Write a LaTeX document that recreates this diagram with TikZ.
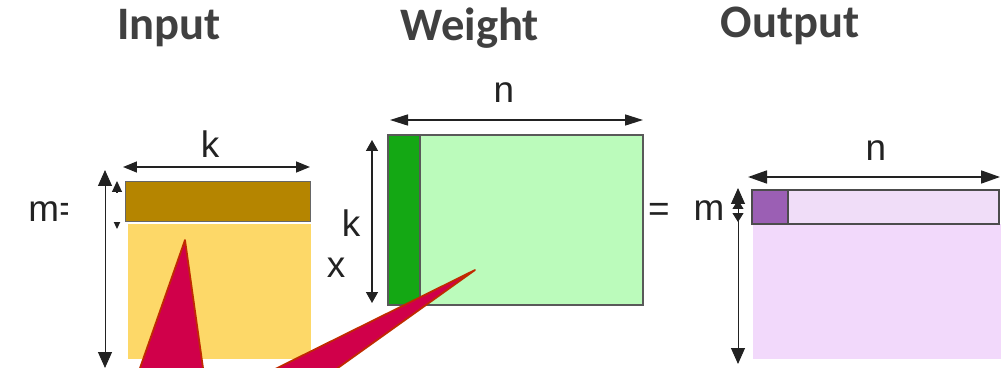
\documentclass[tikz,border=0pt]{standalone}
\usepackage{fontspec}
\setmainfont{Liberation Sans}
\newfontfamily\titlefont{Carlito}
\usetikzlibrary{arrows.meta}

\definecolor{titlegray}{HTML}{404040}
\definecolor{labgray}{HTML}{222222}
\definecolor{rowbrown}{HTML}{B58500}
\definecolor{inyellow}{HTML}{FDD868}
\definecolor{wlight}{HTML}{BBFBBB}
\definecolor{wdark}{HTML}{14A814}
\definecolor{outpink}{HTML}{F2D9FB}
\definecolor{rowpink}{HTML}{F0DDF8}
\definecolor{cellpurple}{HTML}{9B5FB4}
\definecolor{calloutred}{HTML}{D0004A}
\definecolor{calloutedge}{HTML}{C02A00}

\tikzset{
  title/.style={font=\titlefont\bfseries\fontsize{26.5}{26.5}\selectfont, text=titlegray},
  lab/.style={font=\fontsize{21}{21}\selectfont, text=labgray, inner sep=0pt},
  dim/.style 2 args={{Triangle[length=#1,width=#2]}-{Triangle[length=#1,width=#2]}, draw=labgray, line width=0.85pt},
  callout/.style={fill=calloutred, draw=calloutedge, line width=1pt, line join=round}
}

\begin{document}
\begin{tikzpicture}[x=0.02cm,y=-0.02cm]
  \useasboundingbox (0,0) rectangle (1001,368);
  \clip (0,0) rectangle (1001,368);

  % titles
  \node[title] (intitle) at (169,28) {Input};
  \node[title] (wtitle) at (470,28) {Weight};
  \node[title] (outtitle) at (790,26) {Output};

  % input matrix
  \node[lab, anchor=west] (inm) at (28,212) {m=};
  \coordinate (inm-t) at (117,181);
  \coordinate (inm-b) at (117,229);
  \draw[dim={2.2mm}{2mm}, line width=0.6pt] (inm-t) -- (inm-b);
  \fill[white] (68,193) rectangle (128,222);
  \fill[inyellow] (128,224) rectangle (311,359);
  \filldraw[fill=rowbrown, draw=gray!80!black, line width=0.5pt] (125,181) rectangle (310,221);
  \coordinate (ink-l) at (123,167);
  \coordinate (ink-r) at (310,167);
  \draw[dim={2.8mm}{2.2mm}] (ink-l) -- (ink-r);
  \node[lab] (ink) at (210,144) {k};
  \coordinate (inrows-t) at (105,170);
  \coordinate (inrows-b) at (105,368);
  \draw[dim={3.2mm}{2.8mm}, line width=0.55pt] (inrows-t) -- (inrows-b);

  % weight matrix
  \filldraw[fill=wlight, draw=gray!70!black, line width=0.8pt] (388,135) rectangle (643,305);
  \filldraw[fill=wdark, draw=gray!70!black, line width=0.8pt] (388,135) rectangle (420,305);
  \coordinate (wn-l) at (390,120);
  \coordinate (wn-r) at (643,120);
  \draw[dim={3.6mm}{2.2mm}] (wn-l) -- (wn-r);
  \node[lab] (wn) at (504,93) {n};
  \coordinate (wk-t) at (372,140);
  \coordinate (wk-b) at (372,303);
  \draw[dim={2.2mm}{2.4mm}] (wk-t) -- (wk-b);
  \node[lab] (wk) at (351,223) {k};
  \node[lab] (times) at (336,268) {x};
  \node[lab] (eq) at (659,212) {=};

  % output matrix
  \fill[outpink] (753,224) rectangle (1001,359);
  \filldraw[fill=rowpink, draw=gray!60!black, line width=0.8pt] (752,190) rectangle (999,224);
  \filldraw[fill=cellpurple, draw=gray!60!black, line width=0.8pt] (752,190) rectangle (788,224);
  \coordinate (on-l) at (748,177);
  \coordinate (on-r) at (1000,177);
  \draw[dim={3.8mm}{2.6mm}, line width=1pt] (on-l) -- (on-r);
  \node[lab] (on) at (876,151) {n};
  \node[lab] (om) at (709,211) {m};
  \coordinate (orows-t) at (738,188);
  \coordinate (orows-b) at (738,364);
  \draw[dim={3.2mm}{2.8mm}, line width=0.55pt] (orows-t) -- (orows-b);
  \coordinate (om-t) at (738,200);
  \coordinate (om-b) at (738,222);
  \draw[dim={1.8mm}{2.2mm}, line width=0.55pt] (om-t) -- (om-b);

  % callouts
  \filldraw[callout] (185,240) -- (135.8,380) -- (204.7,380) -- cycle;
  \filldraw[callout] (475,270) -- (253,380) -- (321,380) -- cycle;
\end{tikzpicture}
\end{document}
